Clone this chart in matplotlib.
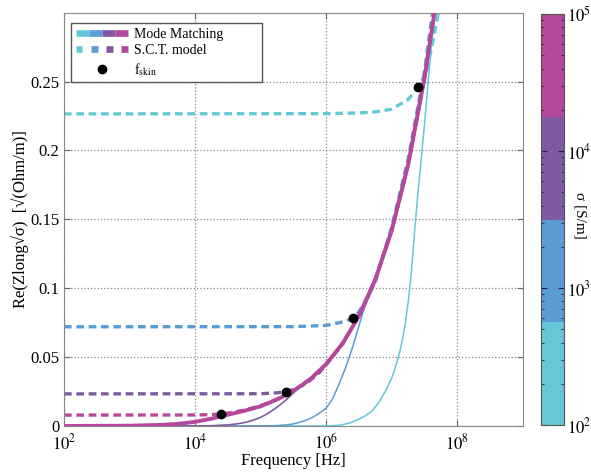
import numpy as np
import matplotlib
matplotlib.use('Agg')
import matplotlib.pyplot as plt
from matplotlib.colors import ListedColormap, LogNorm
from matplotlib.cm import ScalarMappable
from matplotlib.lines import Line2D
from matplotlib.legend_handler import HandlerTuple

plt.rcParams['font.family'] = ['Liberation Serif', 'DejaVu Serif']
plt.rcParams['mathtext.fontset'] = 'stix'

# conductivity bands (colour bar) and their colours
sigma_colors = ['#64C8D7', '#5B9BD5', '#7F5AA3', '#B5489C']
sigma_names = ['1e2', '1e3', '1e4', '1e5']

# Mode Matching (solid), log10(f) -> Re(Z sqrt(sigma))
mm_logf = {
    '1e2': [2.0, 6.0, 6.2, 6.35, 6.5, 6.6, 6.7, 6.8, 6.9, 7.0, 7.07, 7.14, 7.2, 7.25,
            7.3, 7.35, 7.4, 7.45, 7.5, 7.55, 7.6, 7.65],
    '1e3': [2.0, 5.0, 5.25, 5.4, 5.5, 5.6, 5.7, 5.8, 5.9, 6.0, 6.1, 6.2, 6.3, 6.4, 6.5,
            6.55, 6.6, 6.7, 6.75, 7.0, 7.25, 7.5, 7.65],
    '1e4': [2.0, 4.0, 4.25, 4.5, 4.6, 4.7, 4.8, 4.9, 5.0, 5.1, 5.2, 5.3, 5.4, 5.5, 5.6,
            5.7, 5.8, 5.9, 6.0, 6.25, 6.5, 6.75, 7.0, 7.25, 7.5, 7.65],
    '1e5': [2.0, 3.0, 3.5, 3.75, 4.0, 4.25, 4.5, 4.75, 5.0, 5.25, 5.5, 5.75, 6.0, 6.25,
            6.5, 6.75, 7.0, 7.25, 7.5, 7.65],
}
mm_val = {
    '1e2': [0.0, 0.0, 0.0005, 0.002, 0.005, 0.0075, 0.011, 0.017, 0.025, 0.035, 0.045,
            0.0575, 0.073, 0.09, 0.113, 0.143, 0.17, 0.195, 0.22, 0.248, 0.274, 0.30],
    '1e3': [0.0, 0.0, 0.0003, 0.0008, 0.0015, 0.0028, 0.0043, 0.0065, 0.0095, 0.013,
            0.02, 0.031, 0.043, 0.057, 0.073, 0.081, 0.088, 0.099, 0.1067, 0.1423,
            0.19, 0.253, 0.30],
    '1e4': [0.0, 0.0, 0.0002, 0.0008, 0.0013, 0.002, 0.003, 0.0045, 0.0063, 0.0088,
            0.012, 0.0155, 0.0195, 0.024, 0.0285, 0.0325, 0.0365, 0.0405, 0.046, 0.06,
            0.08, 0.1067, 0.1423, 0.19, 0.253, 0.30],
    '1e5': [0.0, 0.0002, 0.0008, 0.0016, 0.003, 0.0053, 0.0082, 0.011, 0.0143, 0.0192,
            0.0254, 0.0337, 0.045, 0.06, 0.08, 0.1064, 0.1423, 0.19, 0.253, 0.30],
}

# S.C.T. model (dashed)
sct_logf = {
    '1e2': [2.0, 6.0, 6.5, 6.75, 7.0, 7.25, 7.4, 7.52, 7.62, 7.71],
    '1e3': [2.0, 5.5, 6.0, 6.25, 6.4, 6.5, 6.6, 6.75, 7.0, 7.25, 7.5, 7.62],
    '1e4': [2.0, 5.0, 5.25, 5.39, 5.5, 5.7, 5.9, 6.0, 6.25, 6.5, 6.75, 7.0, 7.25, 7.5, 7.65],
    '1e5': [2.0, 4.0, 4.25, 4.4, 4.5, 4.75, 5.0, 5.25, 5.5, 5.75, 6.0, 6.25, 6.5, 6.75,
            7.0, 7.25, 7.5, 7.65],
}
sct_val = {
    '1e2': [0.2265, 0.2267, 0.2272, 0.228, 0.230, 0.237, 0.246, 0.256, 0.2777, 0.30],
    '1e3': [0.072, 0.0721, 0.073, 0.0755, 0.078, 0.083, 0.091, 0.105, 0.145, 0.194,
            0.258, 0.30],
    '1e4': [0.0233, 0.0234, 0.0241, 0.025, 0.0265, 0.031, 0.039, 0.0447, 0.0595, 0.08,
            0.107, 0.142, 0.19, 0.253, 0.30],
    '1e5': [0.0079, 0.008, 0.0082, 0.0087, 0.0093, 0.0115, 0.0147, 0.0195, 0.0257,
            0.034, 0.045, 0.06, 0.08, 0.1067, 0.1423, 0.19, 0.253, 0.30],
}

# skin frequencies
fskin_logf = [4.40, 5.39, 6.40, 7.394]
fskin_val = [0.0087, 0.0250, 0.0781, 0.2458]

fig = plt.figure(figsize=(5.91, 4.74), dpi=100)
ax = fig.add_axes([0.1083, 0.1013, 0.7766, 0.872])

for name, col in zip(sigma_names, sigma_colors):
    ax.plot(10 ** np.array(sct_logf[name]), sct_val[name], color=col, lw=2.4,
            linestyle=(0, (2.3, 1.4)), zorder=2)

mm_lw = [1.1, 1.1, 1.2, 2.8]
for name, col, lw in zip(sigma_names, sigma_colors, mm_lw):
    ax.plot(10 ** np.array(mm_logf[name]), mm_val[name], color=col, lw=lw, zorder=3)

ax.plot(10 ** np.array(fskin_logf), fskin_val, 'o', color='black', ms=6, zorder=5)

ax.set_xscale('log')
ax.set_xlim(1e2, 1e9)
ax.set_ylim(0, 0.3)
ax.set_xticks([1e2, 1e4, 1e6, 1e8])
ax.set_xticklabels([r'$10^{2}$', r'$10^{4}$', r'$10^{6}$', r'$10^{8}$'])
ax.xaxis.set_minor_locator(matplotlib.ticker.NullLocator())
ax.set_yticks([0, 0.05, 0.1, 0.15, 0.2, 0.25])
ax.set_yticklabels(['0', '0.05', '0.1', '0.15', '0.2', '0.25'])
ax.tick_params(direction='in', top=True, right=True, labelsize=12, length=4,
               color='#666666')
ax.tick_params(axis='x', pad=5)
ax.grid(True, linestyle=':', color='#888888', lw=0.9)
for sp in ax.spines.values():
    sp.set_color('#888888')
ax.set_xlabel('Frequency [Hz]', fontsize=12, labelpad=0)
ax.set_ylabel('Re(Zlong\u221a\u03c3)  [\u221a(Ohm/m)]', fontsize=12, labelpad=1)

# legend
mm_handle = tuple(Line2D([], [], color=c, lw=4.8, solid_capstyle='butt') for c in sigma_colors)
sct_handle = tuple(Line2D([], [], color=c, lw=4.8, solid_capstyle='butt') for c in sigma_colors)
dot_handle = Line2D([], [], marker='o', color='black', ls='none', ms=6)
leg = ax.legend([mm_handle, sct_handle, dot_handle],
                ['Mode Matching', 'S.C.T. model', r'f$_{\mathrm{skin}}$'],
                handler_map={mm_handle: HandlerTuple(ndivide=None, pad=0.0),
                             sct_handle: HandlerTuple(ndivide=None, pad=0.6)},
                loc='upper left', bbox_to_anchor=(0.015, 0.8, 0.416, 0.175),
                mode='expand', borderaxespad=0,
                fontsize=10, handlelength=3.74, handletextpad=0.45,
                labelspacing=0.25, borderpad=0.35, fancybox=False, framealpha=1)
leg.get_frame().set_edgecolor('#555555')
leg.get_frame().set_linewidth(1.0)

# colour bar
cax = fig.add_axes([0.9154, 0.1034, 0.0389, 0.867])
sm = ScalarMappable(norm=LogNorm(1e2, 1e5), cmap=ListedColormap(sigma_colors))
cb = fig.colorbar(sm, cax=cax)
cb.set_ticks([1e2, 1e3, 1e4, 1e5])
cb.set_ticklabels([r'$10^{2}$', r'$10^{3}$', r'$10^{4}$', r'$10^{5}$'])
cax.tick_params(which='both', direction='in', left=True, right=True, labelsize=12,
                color='#222244', pad=2)
cax.tick_params(which='major', length=4)
cax.tick_params(which='minor', length=2)
cb.outline.set_edgecolor('#555555')
fig.text(580 / 591, 1 - 215 / 474, '\u03c3 [S/m]', rotation=270, fontsize=11,
         ha='center', va='center')

fig.savefig('out.png', dpi=100)
